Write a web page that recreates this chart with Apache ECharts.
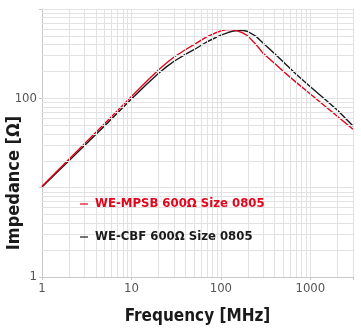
<!DOCTYPE html>
<html>
<head>
<meta charset="utf-8">
<script src="https://cdn.jsdelivr.net/npm/echarts@6/dist/echarts.min.js"></script>
<style>
  html, body { margin: 0; padding: 0; background: #fff; }
  #chart { width: 361px; height: 330px; }
</style>
</head>
<body>
<div id="chart"></div>
<script>
// frequency in MHz, impedance in ohm
const freqMPSB = [1, 2, 5, 10, 15, 20, 25, 30, 40, 50, 70, 85, 100, 115, 130, 150, 175, 200, 250, 300, 400, 500, 700, 1000, 1500, 2000, 3000];
const zMPSB    = [10.4, 20.8, 52, 105, 157, 208, 252, 290, 350, 400, 490, 535, 568, 588, 588, 572, 540, 500, 395, 315, 245, 200, 150, 112, 80, 63, 45];

const freqCBF = [1, 2, 5, 10, 15, 20, 25, 30, 40, 50, 70, 100, 120, 140, 160, 180, 200, 250, 300, 400, 500, 700, 1000, 1500, 2000, 3000];
const zCBF    = [10.2, 20, 49, 98, 146, 190, 228, 260, 310, 350, 430, 510, 545, 568, 578, 575, 560, 490, 410, 315, 255, 185, 135, 95, 74, 49];

const xTickLabels = [1, 10, 100, 1000];
const yTickLabels = [1, 100];

const nameMPSB = 'WE-MPSB 600Ω Size 0805';
const nameCBF = 'WE-CBF 600Ω Size 0805';

const RED = '#e3051b';
const BLACK = '#1a1a1a';
const GRID = '#e2e2e2';
const FONT = '"Liberation Sans Narrow", "DejaVu Sans Condensed", "Liberation Sans", sans-serif';

// log gridlines 1..9 per decade
const xGrid = [];
for (let d = 1; d <= 1000; d *= 10) {
  for (let k = 1; k <= 9; k++) {
    if (k * d > 1 && k * d <= 3000) xGrid.push(k * d);
  }
}
const yGrid = [];
for (let d = 1; d <= 1000; d *= 10) {
  for (let k = 1; k <= 9; k++) {
    if (k * d > 1 && k * d <= 1000) yGrid.push(k * d);
  }
}

const chart = echarts.init(document.getElementById('chart'), null, { renderer: 'canvas' });

// legend drawn by hand: short dash + coloured text
function legendItem(y, text, color) {
  return [
    { type: 'line', z: 10, shape: { x1: 80, y1: y, x2: 88, y2: y }, style: { stroke: color, lineWidth: 1.2 } },
    {
      type: 'text', z: 10, x: 95, y: y,
      style: { text: text, fontFamily: FONT, fontWeight: 'bold', fontSize: 13, fill: color, align: 'left', verticalAlign: 'middle' }
    }
  ];
}

chart.setOption({
  animation: false,
  backgroundColor: '#fff',
  grid: { left: 42, right: 8, top: 9, bottom: 52 },
  xAxis: {
    type: 'log',
    logBase: 10,
    min: 1,
    max: 3000,
    name: 'Frequency [MHz]',
    nameLocation: 'middle',
    nameGap: 31,
    nameTextStyle: { fontFamily: FONT, fontWeight: 'bold', fontSize: 17, color: '#1a1a1a' },
    axisLine: { lineStyle: { color: '#c8c8c8', width: 1 } },
    axisTick: { show: true, length: 3, lineStyle: { color: '#c8c8c8' } },
    axisLabel: {
      margin: 5,
      fontFamily: FONT,
      fontSize: 13,
      color: '#555',
      formatter: function (v) {
        const r = Math.round(v);
        return xTickLabels.indexOf(r) >= 0 ? String(r) : '';
      }
    },
    splitLine: { show: false }
  },
  yAxis: {
    type: 'log',
    logBase: 10,
    min: 1,
    max: 1000,
    axisLine: { show: true, lineStyle: { color: '#c8c8c8', width: 1 } },
    axisTick: { show: true, length: 3, lineStyle: { color: '#c8c8c8' } },
    axisLabel: {
      margin: 5,
      fontFamily: FONT,
      fontSize: 13,
      color: '#555',
      formatter: function (v) {
        const r = Math.round(v);
        return yTickLabels.indexOf(r) >= 0 ? String(r) : '';
      }
    },
    splitLine: { show: false }
  },
  graphic: [{
    type: 'text',
    x: 14,
    y: 183,
    rotation: Math.PI / 2,
    style: {
      text: 'Impedance [Ω]',
      fontFamily: FONT,
      fontWeight: 'bold',
      fontSize: 18,
      fill: '#1a1a1a',
      align: 'center',
      verticalAlign: 'middle'
    }
  }].concat(legendItem(204, nameMPSB, RED), legendItem(237, nameCBF, BLACK)),
  series: [
    {
      name: 'grid',
      type: 'line',
      data: [],
      silent: true,
      z: 1,
      markLine: {
        silent: true,
        symbol: 'none',
        animation: false,
        label: { show: false },
        lineStyle: { color: GRID, width: 1, type: 'solid' },
        data: xGrid.map(v => ({ xAxis: v })).concat(yGrid.map(v => ({ yAxis: v })))
      }
    },
    {
      name: nameCBF,
      type: 'line',
      z: 3,
      smooth: false,
      showSymbol: false,
      color: BLACK,
      lineStyle: { color: BLACK, width: 1.4 },
      data: freqCBF.map((f, i) => [f, zCBF[i]])
    },
    {
      name: nameMPSB,
      type: 'line',
      z: 4,
      smooth: false,
      showSymbol: false,
      color: RED,
      lineStyle: { color: RED, width: 1.4 },
      data: freqMPSB.map((f, i) => [f, zMPSB[i]])
    }
  ]
});
</script>
</body>
</html>
